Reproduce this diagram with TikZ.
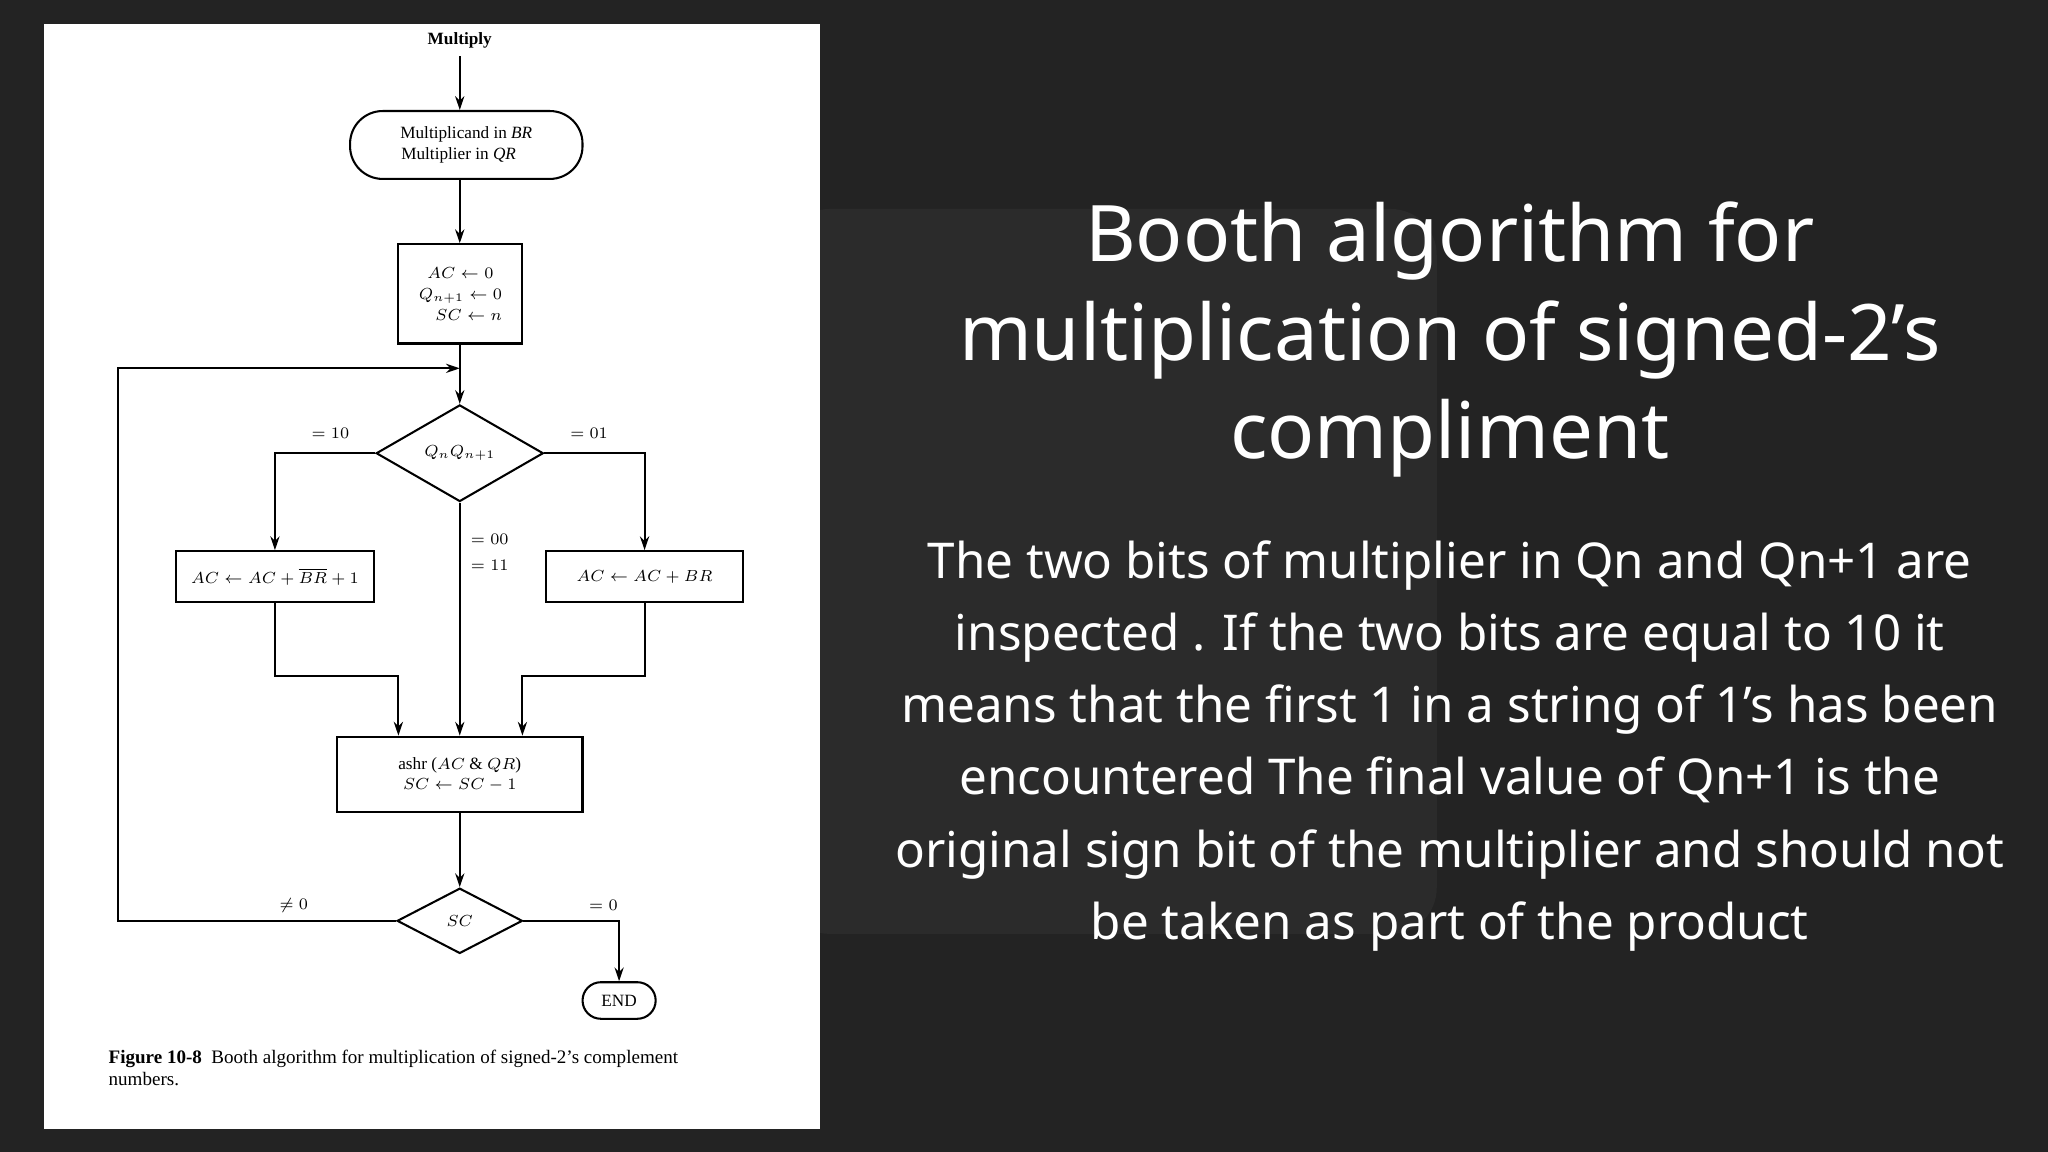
\documentclass[tikz,border=0pt]{standalone}
\usepackage{fontspec}
\setmainfont{Liberation Serif}
\newfontfamily\slide{Noto Sans}
\usetikzlibrary{shapes.geometric,arrows.meta,calc}
\definecolor{bg}{HTML}{232323}
\definecolor{panel}{HTML}{2B2B2B}
\begin{document}
\begin{tikzpicture}[x=0.02cm,y=-0.02cm,
  box/.style={draw,line width=0.9pt,inner sep=0,font=\fontsize{7.5}{9}\selectfont,align=center},
  dia/.style={draw,line width=0.9pt,diamond,inner sep=0,font=\fontsize{7.5}{9}\selectfont},
  ar/.style={line width=0.9pt,-{Stealth[length=6pt,width=4pt]}},
  lbl/.style={font=\fontsize{7.5}{9}\selectfont}]
\fill[bg] (0,0) rectangle (1568,882);
\fill[panel,rounded corners=20] (600,160) rectangle (1100,715);
\fill[white] (34,18) rectangle (628,864);
\useasboundingbox (0,0) rectangle (1568,882);
% flowchart
\node[lbl,font=\bfseries\fontsize{7.5}{9}\selectfont] (mul) at (352,31) {Multiply};
\node[box,rounded corners=0.5cm,minimum width=3.56cm,minimum height=1.04cm] (start) at (357,111) {Multiplicand in \textit{BR}\\Multiplier in \textit{QR}\hphantom{M}};
\node[box,minimum width=1.9cm,minimum height=1.52cm] (init) at (352.5,225) {\hfill$AC\leftarrow 0$\\$Q_{n+1}\leftarrow 0$\\\hfill$SC\leftarrow n$};
\node[dia,aspect=1.73,minimum width=2.56cm,minimum height=1.48cm] (d1) at (352,347) {$Q_nQ_{n+1}$};
\node[box,minimum width=3.02cm,minimum height=0.78cm] (L) at (210.5,441.5) {$AC\leftarrow AC+\overline{BR}+1$};
\node[box,minimum width=3.02cm,minimum height=0.78cm] (R) at (493.5,441.5) {$AC\leftarrow AC+BR$};
\node[box,minimum width=3.76cm,minimum height=1.16cm] (ashr) at (352,593) {ashr ($AC$ \& $QR$)\\$SC\leftarrow SC-1$};
\node[dia,aspect=1.9,minimum width=1.92cm,minimum height=1.0cm] (d2) at (352,705) {$SC$};
\node[box,rounded corners=0.28cm,minimum width=1.12cm,minimum height=0.56cm] (end) at (474,766) {END};
\coordinate (j) at (352,282);
\coordinate (lc) at (90,705);
\draw[ar] (mul) -- (mul |- start.north);
\draw[ar] (start.south -| mul) -- (mul |- init.north);
\draw[ar] (init.south -| d1) -- (d1.north);
\draw[ar] (d1.west) -| (L.north);
\draw[ar] (d1.east) -| (R.north);
\draw[ar] (d1.south) -- (ashr.north);
\draw[ar] (L.south) -- ++(0,56) -| ([xshift=-0.94cm]ashr.north);
\draw[ar] (R.south) -- ++(0,56) -| ([xshift=0.96cm]ashr.north);
\draw[ar] (ashr) -- (d2.north);
\draw[ar] (d2.west) -- (lc) |- (j);
\draw[ar] (d2.east) -| (end.north);
\node[lbl] at (253,332) {$=10$};
\node[lbl] at (451,332) {$=01$};
\node[lbl] at (375,413) {$=00$};
\node[lbl] at (375,433) {$=11$};
\node[lbl] at (225,693) {$\neq 0$};
\node[lbl] at (462,693) {$=0$};
\node[anchor=north west,align=left,font=\fontsize{8.3}{9.6}\selectfont] (cap) at (77,798) {\textbf{Figure 10-8}\enspace Booth algorithm for multiplication of signed-2’s complement\\numbers.};
% slide text
\node[text=white,font=\slide\fontsize{34}{43}\selectfont,align=center] (title) at (1110,260) {Booth algorithm for\\multiplication of signed-2’s\\compliment};
\node[text=white,font=\slide\fontsize{21.5}{31.5}\selectfont,align=center] (body) at (1110,571) {The two bits of multiplier in Qn and Qn+1 are\\inspected . If the two bits are equal to 10 it\\means that the first 1 in a string of 1’s has been\\encountered The final value of Qn+1 is the\\original sign bit of the multiplier and should not\\be taken as part of the product};
\end{tikzpicture}
\end{document}
